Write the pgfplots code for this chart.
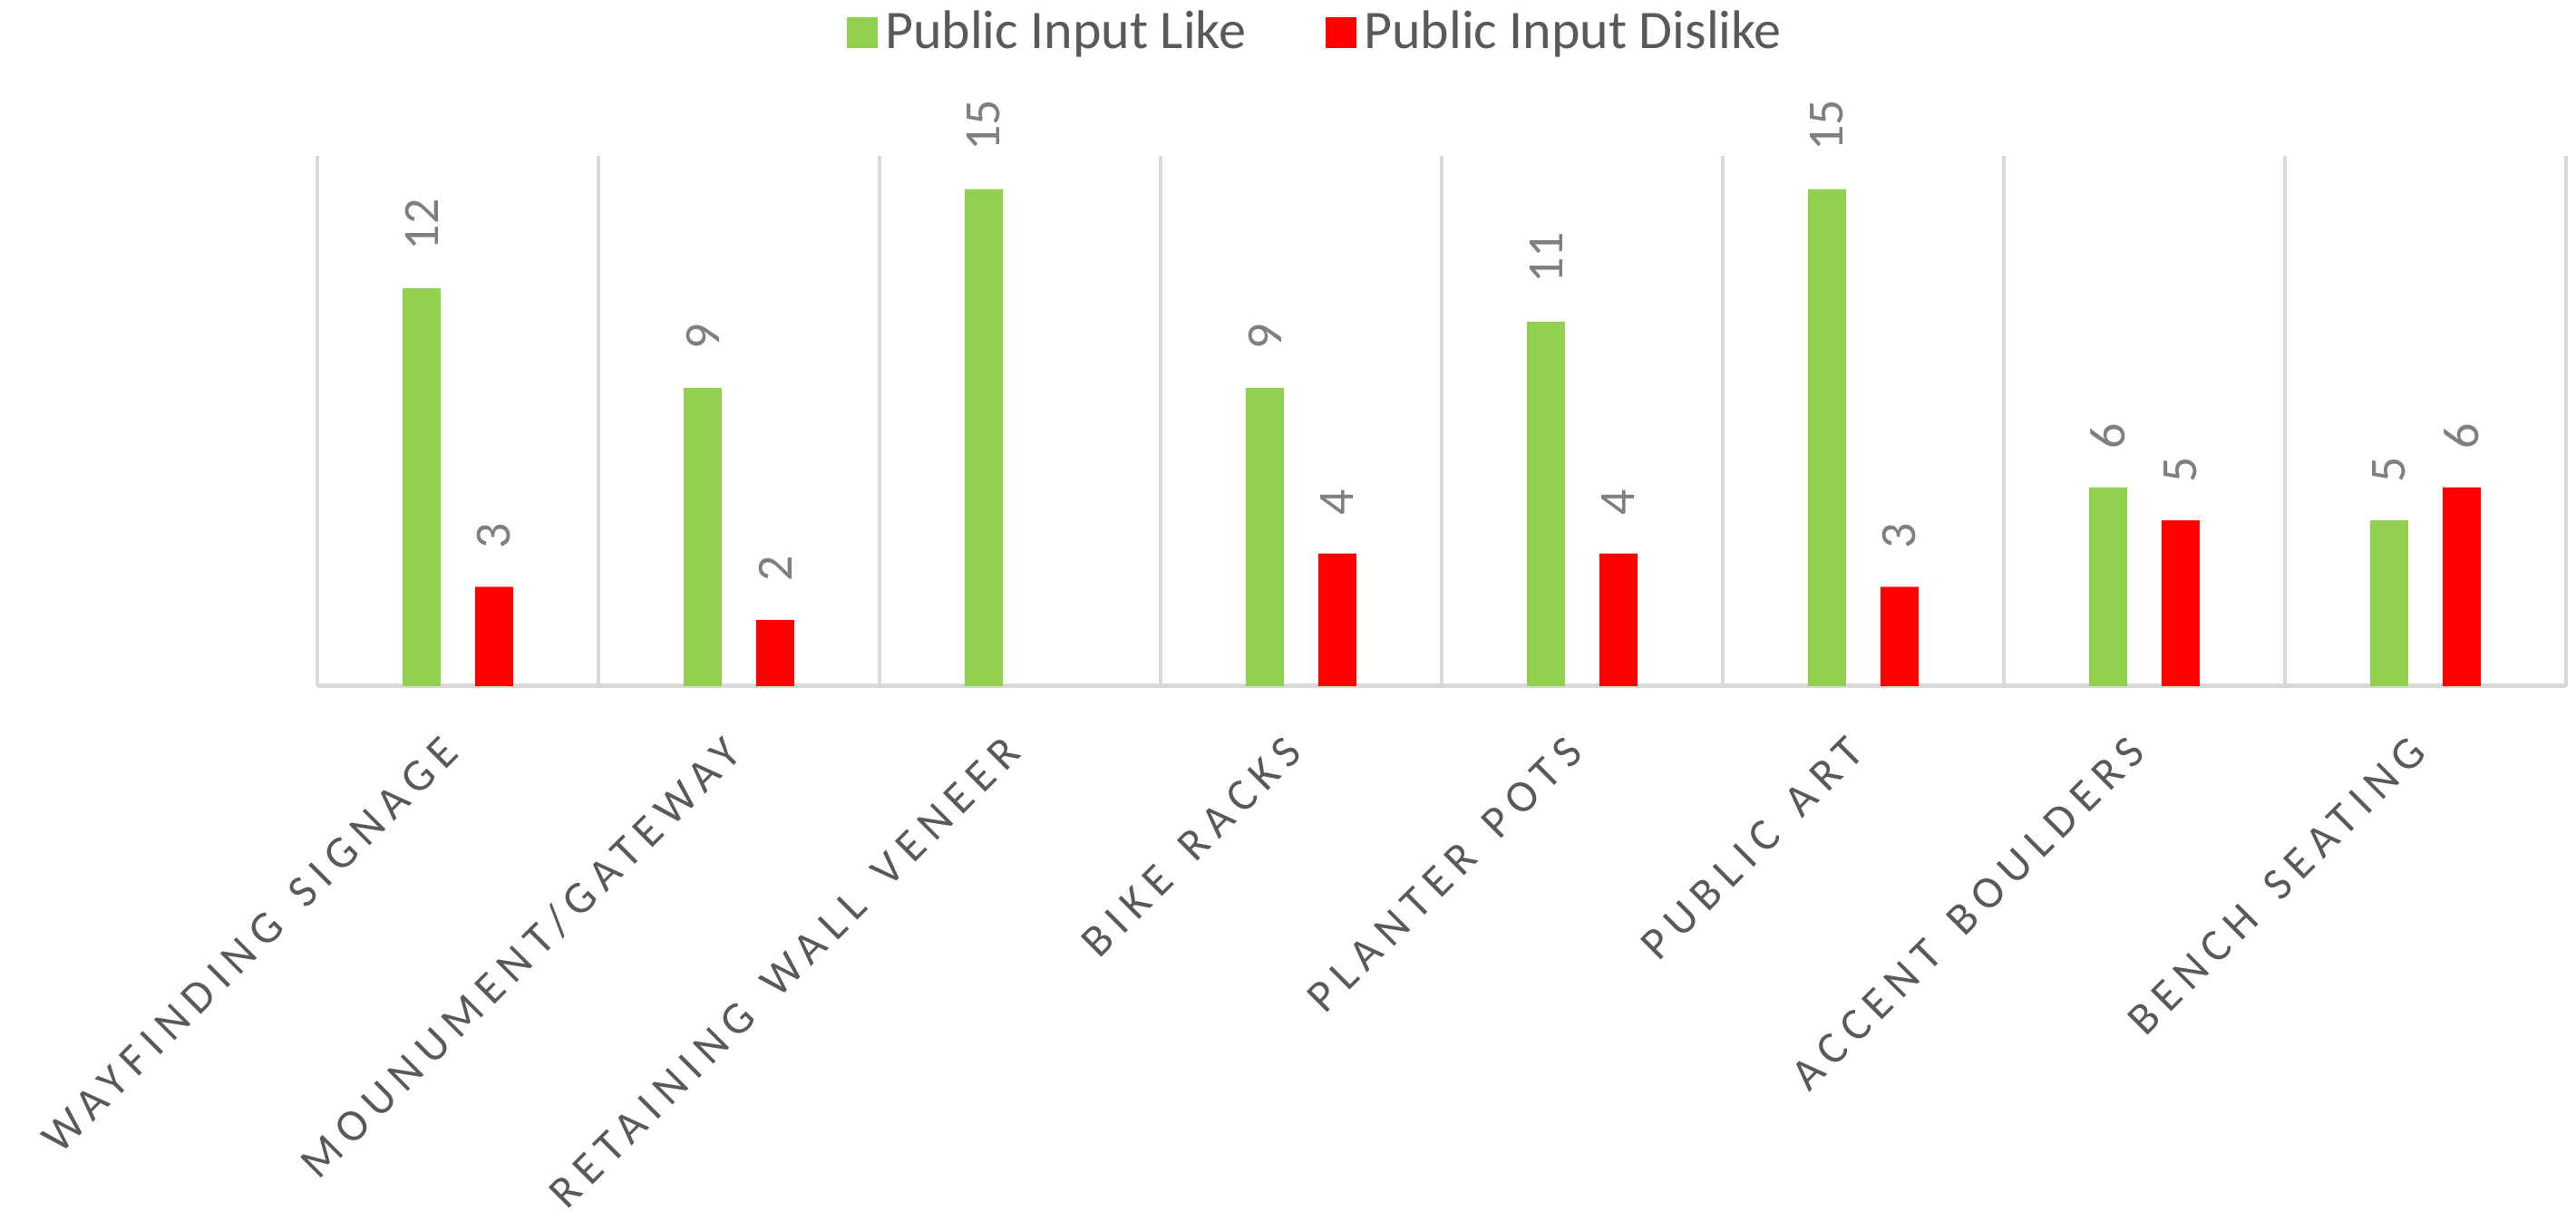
\documentclass[border=0pt]{standalone}
\usepackage{fontspec}
\setmainfont{Carlito}
\newfontfamily\labelfont[LetterSpace=19,WordSpace=1.5]{Carlito}
\usepackage{pgfplots}
\pgfplotsset{compat=1.18}
\definecolor{likegreen}{HTML}{92D050}
\definecolor{dislikered}{HTML}{FF0000}
\definecolor{gridgray}{HTML}{D9D9D9}
\definecolor{txtgray}{HTML}{595959}
\definecolor{valgray}{HTML}{7F7F7F}
\begin{document}
\begin{tikzpicture}
\path[use as bounding box] (-87.5pt,-150.25pt) rectangle (622.75pt,189.25pt);
\begin{axis}[
  scale only axis,
  width=620pt, height=146.25pt,
  xmin=-0.5, xmax=7.5, ymin=0, ymax=16,
  /pgf/number format/assume math mode=true,
  axis x line=bottom, axis y line=none,
  x axis line style={-, color=gridgray, line width=1.25pt},
  ytick=\empty,
  xtick={0,...,7},
  xticklabels={WAYFINDING SIGNAGE,MOUNUMENT/GATEWAY,RETAINING WALL VENEER,BIKE RACKS,PLANTER POTS,PUBLIC ART,ACCENT BOULDERS,BENCH SEATING},
  major tick length=0pt,
  minor xtick={-0.5,0.5,...,7.5},
  minor tick length=0pt,
  xminorgrids,
  minor grid style={color=gridgray, line width=1.1pt},
  xticklabel style={xshift=-5pt, font=\labelfont\fontsize{12.5}{15}\selectfont, text=txtgray, rotate=45, anchor=north east, inner sep=0pt},
  xticklabel shift=13pt,
  ybar, bar width=10.5pt,
  nodes near coords,
  nodes near coords align={horizontal},
  every node near coord/.append style={font=\fontsize{14}{17}\selectfont, text=valgray, rotate=90, anchor=west, inner sep=0pt, outer xsep=10.5pt},
  legend columns=2,
  legend style={at={(0.445,1.2325)}, anchor=center, draw=none, fill=none, font=\fontsize{15}{18}\selectfont, text=txtgray, /tikz/every even column/.append style={column sep=20pt}},
  legend image code/.code={\fill (0pt,-4.25pt) rectangle (8.5pt,4.25pt);},
]
\addplot[fill=likegreen, draw=none, bar shift=-10pt] coordinates {(0,12) (1,9) (2,15) (3,9) (4,11) (5,15) (6,6) (7,5)};
\addplot[fill=dislikered, draw=none, bar shift=10pt] coordinates {(0,3) (1,2) (3,4) (4,4) (5,3) (6,5) (7,6)};
\legend{Public Input Like, Public Input Dislike}
\end{axis}
\end{tikzpicture}
\end{document}
